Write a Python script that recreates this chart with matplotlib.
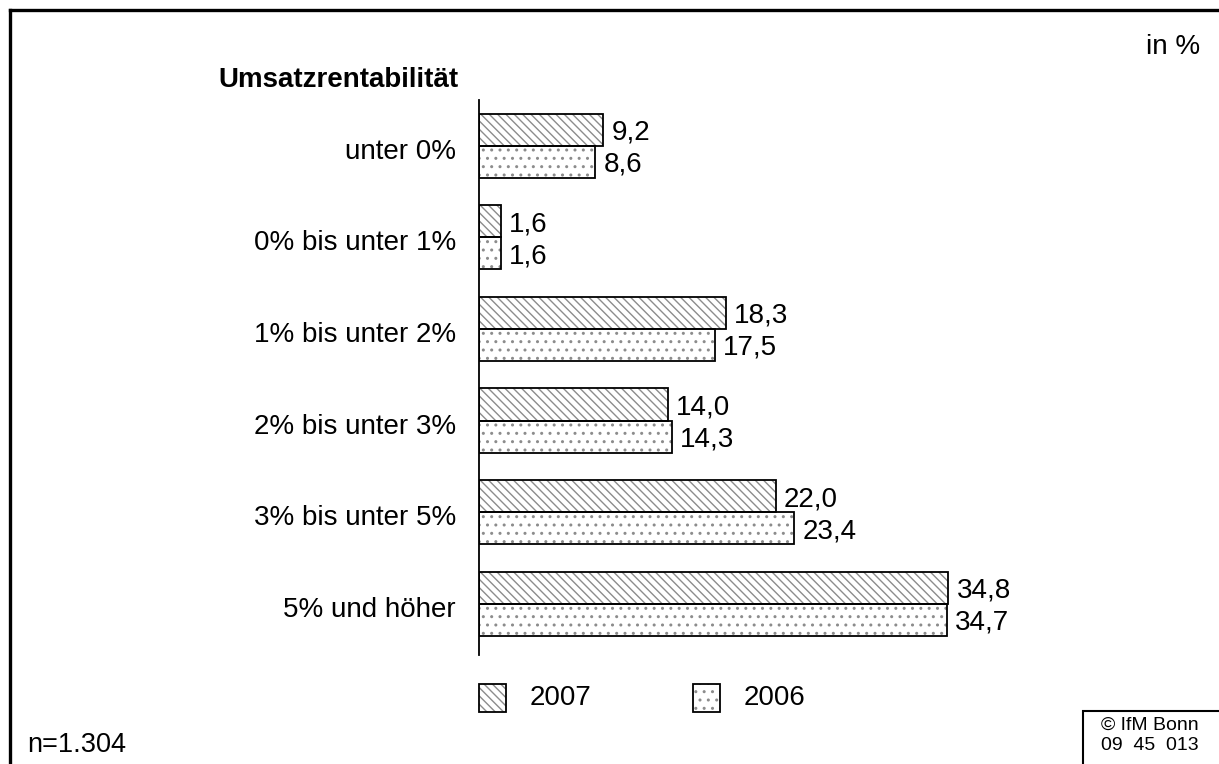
import matplotlib
matplotlib.use("Agg")
import matplotlib.pyplot as plt
import matplotlib.transforms as mtransforms
from matplotlib.patches import Rectangle
from matplotlib.lines import Line2D
import numpy as np

plt.rcParams['font.family'] = ['Liberation Sans', 'DejaVu Sans']
plt.rcParams['hatch.linewidth'] = 1.0

categories = ["unter 0%", "0% bis unter 1%", "1% bis unter 2%",
              "2% bis unter 3%", "3% bis unter 5%", "5% und höher"]
values_2007 = [9.2, 1.6, 18.3, 14.0, 22.0, 34.8]
values_2006 = [8.6, 1.6, 17.5, 14.3, 23.4, 34.7]
series_labels = ["2007", "2006"]

W, H = 1219, 764
fig = plt.figure(figsize=(W / 100, H / 100), dpi=100)

def px_axes(x0, y0, x1, y1):
    return fig.add_axes([x0 / W, 1 - y1 / H, (x1 - x0) / W, (y1 - y0) / H])

ax = px_axes(479, 100, 479 + 13.48 * 50, 655)
ax.set_xlim(0, 50)
ax.set_ylim(5.56, -0.5)

y = np.arange(len(categories))
h = 0.35
grey = "#8c8c8c"
hatch_07 = "\\\\\\\\"
hatch_06 = ".."

def hatched_bars(ypos, vals, hatch):
    ax.barh(ypos, vals, height=h, color="white", edgecolor=grey,
            hatch=hatch, linewidth=0, zorder=2)
    ax.barh(ypos, vals, height=h, fill=False, edgecolor="black",
            linewidth=1.3, zorder=3)

hatched_bars(y - h / 2, values_2007, hatch_07)
hatched_bars(y + h / 2, values_2006, hatch_06)

fmt = lambda v: f"{v:.1f}".replace(".", ",")
for i in range(len(categories)):
    ax.annotate(fmt(values_2007[i]), (values_2007[i], y[i] - h / 2),
                xytext=(6, 0), textcoords="offset points",
                va="center_baseline", ha="left", fontsize=20)
    ax.annotate(fmt(values_2006[i]), (values_2006[i], y[i] + h / 2),
                xytext=(6, 0), textcoords="offset points",
                va="center_baseline", ha="left", fontsize=20)

ax.set_yticks(y)
ax.set_yticklabels(categories, fontsize=20, va="center_baseline")
ax.tick_params(axis="y", length=0, pad=16.5)
shift_down = mtransforms.ScaledTranslation(0, -3 / 100, fig.dpi_scale_trans)
for lbl in ax.get_yticklabels():
    lbl.set_transform(lbl.get_transform() + shift_down)
ax.set_xticks([])
for s in ["top", "right", "bottom"]:
    ax.spines[s].set_visible(False)
ax.spines["left"].set_linewidth(1.3)

# Title and annotations
fig.text(218 / W, 1 - 80 / H, "Umsatzrentabilität", fontsize=20,
         fontweight="bold", ha="left", va="center")
fig.text(1200 / W, 1 - 47 / H, "in %", fontsize=20, ha="right", va="center")
fig.text(27 / W, 1 - 745 / H, "n=1.304", fontsize=19.5, ha="left", va="center")

# Outer frame (top and left)
fig.add_artist(Line2D([10 / W, 10 / W], [0, 1 - 10 / H], color="black",
                      linewidth=2.4, transform=fig.transFigure))
fig.add_artist(Line2D([10 / W, 1], [1 - 10 / H, 1 - 10 / H], color="black",
                      linewidth=2.4, transform=fig.transFigure))

# Copyright box
fig.add_artist(Rectangle((1083 / W, -0.01), (W - 1083 + 10) / W, (764 - 711) / H + 0.01,
                         transform=fig.transFigure, fill=False,
                         edgecolor="black", linewidth=1.5))
fig.text(1150 / W, 1 - 725 / H, "© IfM Bonn", fontsize=14, ha="center", va="center")
fig.text(1150 / W, 1 - 746 / H, "09  45  013", fontsize=14, ha="center", va="center")

# Legend
for xp, patch_hatch, lab in [(479, hatch_07, series_labels[0]), (693, hatch_06, series_labels[1])]:
    fig.add_artist(Rectangle((xp / W, 1 - 712 / H), 27 / W, 28 / H,
                             transform=fig.transFigure, facecolor="white",
                             edgecolor=grey, hatch=patch_hatch, linewidth=0))
    fig.add_artist(Rectangle((xp / W, 1 - 712 / H), 27 / W, 28 / H,
                             transform=fig.transFigure, fill=False,
                             edgecolor="black", linewidth=1.3))
    fig.text((xp + 51) / W, 1 - 698 / H, lab, fontsize=20, ha="left", va="center")

fig.savefig("out.png", dpi=100)
